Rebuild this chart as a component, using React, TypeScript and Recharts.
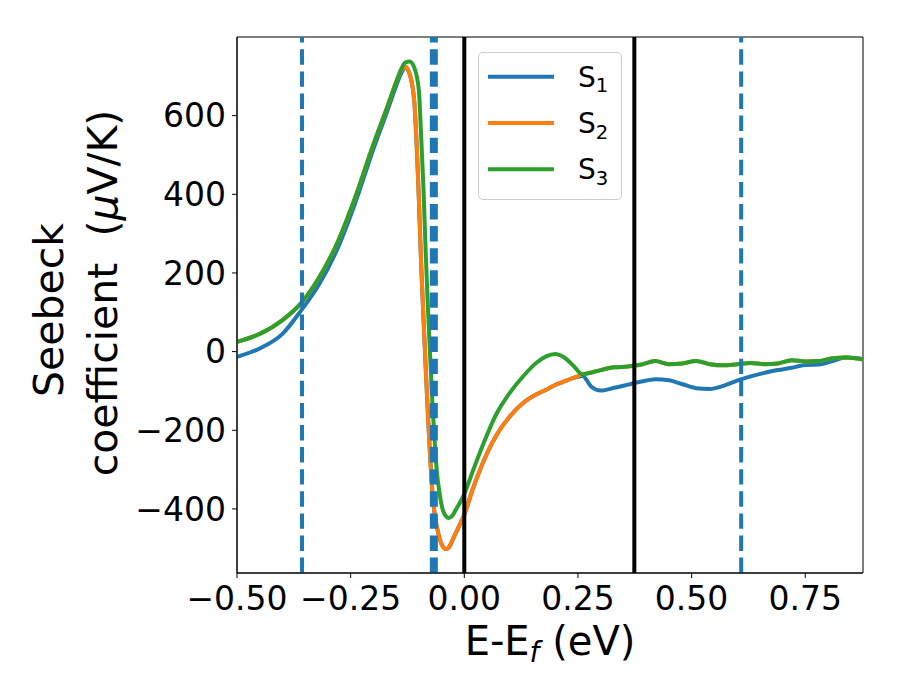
import {
  LineChart,
  Line,
  XAxis,
  YAxis,
  ReferenceLine,
  ReferenceArea,
  Legend,
} from "recharts";

// energy grid (eV), denser around the sharp drop near E_f
const energy = [
  -0.5, -0.45, -0.4, -0.36, -0.32, -0.28, -0.24, -0.2, -0.17, -0.15, -0.14,
  -0.13, -0.12, -0.11, -0.1, -0.095, -0.09, -0.085, -0.08, -0.075, -0.07,
  -0.065, -0.06, -0.055, -0.05, -0.045, -0.04, -0.035, -0.03, -0.025, -0.02,
  -0.01, 0, 0.02, 0.04, 0.07, 0.1, 0.13, 0.16, 0.18, 0.2, 0.22, 0.24, 0.26,
  0.28, 0.3, 0.33, 0.36, 0.39, 0.42, 0.45, 0.48, 0.51, 0.54, 0.57, 0.6, 0.63,
  0.66, 0.69, 0.72, 0.75, 0.78, 0.81, 0.84, 0.877,
];

const s1 = [
  -13, 8, 45, 103, 170, 259, 378, 515, 610, 675, 705,
  722, 705, 635, 390, 225, 90, -38, -161, -270, -360,
  -415, -447, -472, -490, -499, -502, -499, -490, -477, -465,
  -440, -414, -345, -285, -214, -165, -130, -108, -97, -85, -76, -67, -62,
  -90, -99, -92, -84, -76, -70, -73, -83, -93, -95, -87, -74, -63,
  -54, -47, -41, -34, -33, -24, -15, -19,
];

const s2 = [
  25, 45, 80, 122, 187, 275, 392, 527, 620, 685, 712,
  725, 705, 635, 390, 225, 90, -38, -161, -270, -360,
  -415, -447, -472, -490, -499, -502, -499, -490, -477, -465,
  -440, -414, -345, -285, -214, -165, -130, -108, -97, -85, -76, -67, -58,
  -53, -47, -40, -38, -33, -24, -32, -30, -24, -32, -35, -32, -29,
  -32, -30, -22, -25, -24, -17, -15, -20,
];

const s3 = [
  25, 45, 80, 122, 187, 275, 392, 527, 620, 685, 715,
  735, 738, 722, 665, 550, 420, 255, 110, -15, -135,
  -230, -310, -355, -390, -410, -419, -423, -421, -415, -405,
  -385, -362, -300, -240, -160, -105, -62, -27, -12, -6, -15, -36, -58,
  -53, -47, -40, -38, -33, -24, -32, -30, -24, -32, -35, -32, -29,
  -32, -30, -22, -25, -24, -17, -15, -20,
];

const xTicks = [-0.5, -0.25, 0, 0.25, 0.5, 0.75];
const yTicks = [-400, -200, 0, 200, 400, 600];
const dashedMarks = [-0.357, 0.609];
const bandMark = -0.067;
const solidMarks = [0, 0.374];

const series = [
  { key: "s1", sub: "1", color: "#1f77b4" },
  { key: "s2", sub: "2", color: "#ff7f0e" },
  { key: "s3", sub: "3", color: "#2ca02c" },
];

const rows = energy.map((e, i) => ({ e, s1: s1[i], s2: s2[i], s3: s3[i] }));

const FONT = "DejaVu Sans, sans-serif";
const minus = (s: string) => s.replace("-", "\u2212");

function LegendBox() {
  return (
    <div
      style={{
        width: 144,
        height: 148,
        boxSizing: "border-box",
        border: "1px solid #cccccc",
        borderRadius: 5,
        background: "rgba(255,255,255,0.8)",
      }}
    >
      <svg width={142} height={146} style={{ display: "block" }}>
        {series.map((s, i) => (
          <g key={s.key}>
            <line
              x1={9}
              x2={75}
              y1={23.7 + i * 46.3}
              y2={23.7 + i * 46.3}
              stroke={s.color}
              strokeWidth={4}
            />
            <text x={99} y={33.7 + i * 46.3} fontSize={28} fontFamily={FONT} fill="#000">
              S
              <tspan fontSize={19.6} dy={5.5}>
                {s.sub}
              </tspan>
            </text>
          </g>
        ))}
      </svg>
    </div>
  );
}

function YLabel() {
  return (
    <g fontFamily={FONT} fontSize={41} fill="#000">
      <text x={63} y={310} textAnchor="middle" transform="rotate(-90 63 310)">
        Seebeck
      </text>
      <text x={117} y={293} textAnchor="middle" transform="rotate(-90 117 293)">
        {"coefficient\u00a0 ("}
        <tspan fontStyle="italic">μ</tspan>
        {"V/K)"}
      </text>
    </g>
  );
}

function XLabel() {
  return (
    <text x={550} y={655} textAnchor="middle" fontFamily={FONT} fontSize={40} fill="#000">
      E-E
      <tspan fontStyle="italic" fontSize={28} dy={7}>
        f
      </tspan>
      <tspan dy={-7}> (eV)</tspan>
    </text>
  );
}

export default function App() {
  return (
    <div style={{ width: 900, height: 700, background: "#fff" }}>
      <style>{"body{margin:0}"}</style>
      <LineChart
        width={900}
        height={700}
        data={rows}
        margin={{ top: 37, right: 37, left: 0, bottom: 0 }}
      >
        <XAxis
          dataKey="e"
          type="number"
          domain={[-0.5, 0.877]}
          allowDataOverflow
          ticks={xTicks}
          tickFormatter={(v: number) => minus(v.toFixed(2))}
          height={127}
          tickSize={5}
          tickMargin={9}
          stroke="#000"
          tick={{ fill: "#000", fontSize: 33, fontFamily: FONT }}
          label={{ content: () => <XLabel /> }}
        />
        <YAxis
          type="number"
          domain={[-563, 800]}
          allowDataOverflow
          ticks={yTicks}
          tickFormatter={(v: number) => minus(String(v))}
          width={237}
          tickSize={5}
          tickMargin={6}
          stroke="#000"
          tick={{ fill: "#000", fontSize: 33, fontFamily: FONT }}
          label={{ content: () => <YLabel /> }}
        />
        {series.map((s) => (
          <Line
            key={s.key}
            dataKey={s.key}
            type="monotone"
            stroke={s.color}
            strokeWidth={4}
            dot={false}
            activeDot={false}
            isAnimationActive={false}
          />
        ))}
        {dashedMarks.map((x) => (
          <ReferenceLine
            key={x}
            x={x}
            stroke="#1f77b4"
            strokeWidth={4}
            strokeDasharray="15.4 6.7"
          />
        ))}
        <ReferenceLine x={bandMark} stroke="#1f77b4" strokeWidth={8} strokeDasharray="15.4 6.7" />
        {solidMarks.map((x) => (
          <ReferenceLine key={x} x={x} stroke="#000" strokeWidth={4} />
        ))}
        <ReferenceArea
          x1={-0.5}
          x2={0.877}
          y1={-563}
          y2={800}
          fill="none"
          stroke="#000"
          strokeWidth={1}
          fillOpacity={0}
        />
        <Legend
          layout="vertical"
          align="center"
          verticalAlign="middle"
          content={() => <LegendBox />}
          wrapperStyle={{ position: "absolute", left: 478, top: 52, width: 144, height: 148 }}
        />
      </LineChart>
    </div>
  );
}
